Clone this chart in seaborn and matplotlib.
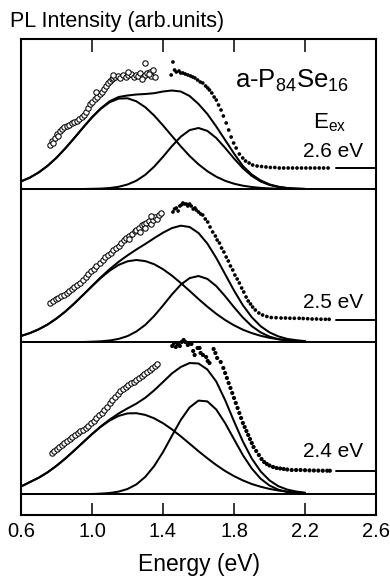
import matplotlib
matplotlib.use("Agg")
import numpy as np
import pandas as pd
import matplotlib.pyplot as plt
import seaborn as sns

# ---------------- data ----------------
energy_grid = [0.60, 0.65, 0.70, 0.75, 0.80, 0.85, 0.90, 0.95, 1.00, 1.05, 1.10,
               1.15, 1.20, 1.25, 1.30, 1.35, 1.40, 1.45, 1.50, 1.55, 1.60, 1.65,
               1.70, 1.75, 1.80, 1.85, 1.90, 1.95, 2.00, 2.05, 2.10, 2.15, 2.20]

# E_ex = 2.6 eV
low_band_26 = [7.6, 11.4, 16.6, 23.2, 31.3, 40.7, 50.9, 61.5, 71.6, 80.3, 86.8,
               90.4, 90.7, 87.7, 81.8, 73.5, 63.6, 53.1, 42.7, 33.0, 24.7, 17.8,
               12.3, 8.2, 5.3, 3.3, 2.0, 1.1, 0.6, 0.3, 0.1, 0.0, 0.0]
high_band_26 = [0, 0, 0, 0, 0, 0, 0, 0, 0.2, 0.4, 1.0,
                2.2, 4.5, 8.3, 14.2, 22.3, 32.2, 42.8, 52.3, 58.9, 61.0, 58.1,
                51.0, 41.1, 30.5, 20.8, 13.1, 7.5, 4.0, 2.0, 0.9, 0.4, 0.1]
fit_sum_26 = [7.6, 11.4, 16.6, 23.2, 31.3, 40.7, 50.9, 61.5, 71.8, 80.7, 87.8,
              92.0, 93.5, 94.5, 95.0, 95.8, 97.5, 98.5, 97.5, 93.0, 85.0, 75.0,
              62.5, 49.0, 35.5, 23.0, 14.5, 8.6, 4.6, 2.3, 1.0, 0.4, 0.1]
open_E_26 = [0.763, 0.775, 0.782, 0.790, 0.800, 0.810, 0.820, 0.830, 0.845, 0.857,
             0.870, 0.885, 0.900, 0.913, 0.927, 0.941, 0.955, 0.965, 0.975, 0.988,
             1.000, 1.016, 1.030, 1.044, 1.055, 1.066, 1.078, 1.090, 1.100, 1.110,
             1.119, 1.130, 1.147, 1.160, 1.175, 1.190, 1.205, 1.222, 1.235, 1.250,
             1.259, 1.270, 1.285, 1.297, 1.310, 1.325, 1.335, 1.343, 1.353, 1.300,
             1.120, 1.200, 1.280, 1.320, 1.025]
open_I_26 = [44, 48, 46, 51, 55, 53, 58, 60, 62, 63,
             64, 66, 67, 68, 70, 72, 74, 77, 81, 85,
             87, 90, 92, 95, 97, 100, 103, 106, 108, 110,
             111, 112, 113, 111, 114, 112, 114, 115, 112, 114,
             113, 116, 112, 114, 116, 117, 113, 119, 112, 126,
             114, 117, 110, 115, 97]
dots_E_26 = [1.446, 1.456, 1.465, 1.475, 1.490, 1.500, 1.512, 1.525, 1.540, 1.555,
             1.568, 1.580, 1.595, 1.610, 1.624, 1.640, 1.652, 1.662, 1.675, 1.688,
             1.700, 1.713, 1.727, 1.740, 1.756, 1.770, 1.784, 1.798, 1.812, 1.830,
             1.849, 1.865, 1.885, 1.905, 1.930, 1.955, 1.980, 2.005, 2.030, 2.055,
             2.080, 2.105, 2.130, 2.155, 2.180, 2.205, 2.230, 2.255, 2.280, 2.305, 2.330]
dots_I_26 = [114, 127, 119, 117, 118, 116, 116, 115, 114, 113,
             112, 111, 109, 107, 106, 103, 101, 99, 96, 92,
             89, 84, 79, 73, 66, 59, 52, 46, 41, 35,
             31, 28, 26, 24, 23, 22.5, 22, 21.5, 21.5, 21,
             21, 21, 21, 21, 21, 21, 21, 21, 21, 21, 21]
level_26 = 21.5

# E_ex = 2.5 eV
low_band_25 = [6.0, 8.9, 12.7, 17.5, 23.5, 30.5, 38.5, 47.1, 55.7, 64.1, 71.4,
               77.1, 80.7, 82.0, 80.9, 77.8, 72.8, 66.4, 59.0, 51.1, 43.0, 35.3,
               28.2, 22.0, 16.7, 12.3, 8.9, 6.2, 4.2, 2.8, 1.8, 1.2, 0.7]
high_band_25 = [0, 0, 0, 0, 0, 0, 0, 0, 0.3, 0.7, 1.5,
                3.1, 5.9, 10.5, 17.1, 26.0, 36.5, 47.5, 57.3, 63.9, 66.0, 63.1,
                55.9, 45.8, 34.8, 24.5, 15.9, 9.6, 5.4, 2.8, 1.3, 0.6, 0.2]
fit_sum_25 = [6.0, 8.9, 12.7, 17.5, 23.5, 30.5, 38.5, 47.1, 56.0, 64.8, 72.9,
              80.2, 86.6, 92.5, 98.0, 103.8, 109.3, 113.9, 116.3, 115.0, 109.0, 98.4,
              84.1, 67.8, 51.5, 36.8, 24.8, 15.8, 9.6, 5.6, 3.1, 1.8, 0.9]
open_E_25 = [0.763, 0.780, 0.795, 0.810, 0.825, 0.840, 0.857, 0.870, 0.885, 0.900,
             0.915, 0.930, 0.950, 0.965, 0.980, 0.995, 1.010, 1.025, 1.044, 1.060,
             1.075, 1.090, 1.105, 1.120, 1.138, 1.150, 1.165, 1.180, 1.194, 1.210,
             1.225, 1.240, 1.250, 1.265, 1.280, 1.295, 1.306, 1.320, 1.330, 1.343,
             1.355, 1.365, 1.375, 1.390, 1.210, 1.270, 1.300, 1.335]
open_I_25 = [39, 41, 43, 44, 46, 47, 49, 51, 53, 55,
             57, 59, 62, 65, 68, 71, 73, 76, 79, 82,
             85, 87, 89, 92, 94, 96, 99, 102, 104, 106,
             108, 111, 112, 114, 117, 118, 119, 121, 118, 122,
             125, 123, 127, 129, 103, 110, 114, 126]
dots_E_25 = [1.456, 1.465, 1.475, 1.485, 1.495, 1.503, 1.512, 1.520, 1.531, 1.540,
             1.550, 1.559, 1.570, 1.580, 1.587, 1.600, 1.612, 1.624, 1.638, 1.652,
             1.665, 1.680, 1.695, 1.705, 1.718, 1.730, 1.743, 1.756, 1.768, 1.780,
             1.793, 1.805, 1.818, 1.830, 1.843, 1.855, 1.868, 1.880, 1.893, 1.905,
             1.920, 1.940, 1.961, 1.985, 2.010, 2.037, 2.065, 2.090, 2.115, 2.140,
             2.167, 2.190, 2.215, 2.240, 2.265, 2.290, 2.315, 2.336]
dots_I_25 = [130, 133, 134, 131, 136, 137, 139, 138, 138, 136,
             138, 136, 133, 134, 132, 130, 128, 127, 123, 120,
             115, 110, 106, 102, 99, 94, 90, 85, 81, 76,
             72, 67, 63, 59, 54, 50, 45, 41, 38, 35,
             32, 29, 27, 25.5, 24.5, 24.3, 24, 24, 23.8, 23.7,
             23.7, 23.5, 23.3, 23, 23, 22.8, 22.7, 22.7]
level_25 = 22.0

# E_ex = 2.4 eV
low_band_24 = [7.5, 11.9, 16.3, 21.7, 28.2, 35.5, 43.5, 51.7, 59.9, 67.3, 73.5,
               78.1, 80.6, 80.8, 79.1, 75.7, 70.8, 64.7, 57.7, 50.3, 42.8, 35.7,
               29.0, 23.0, 17.9, 13.6, 10.0, 7.3, 5.1, 3.5, 2.4, 1.6, 1.0]
high_band_24 = [0, 0, 0, 0, 0, 0, 0, 0, 0, 0.4, 1.0,
                2.4, 5.0, 9.6, 17.1, 27.9, 41.9, 58.1, 74.0, 86.6, 93.4, 92.6,
                84.5, 70.9, 54.8, 38.9, 25.5, 15.3, 8.5, 4.3, 2.0, 0.9, 0.3]
fit_sum_24 = [7.5, 11.9, 16.3, 21.7, 28.2, 35.5, 43.5, 51.7, 59.9, 67.7, 74.5,
              80.5, 85.6, 90.4, 96.2, 103.6, 112.0, 120.5, 127.0, 131.0, 130.5, 124.5,
              112.5, 93.9, 72.7, 52.5, 35.5, 22.6, 13.6, 7.8, 4.4, 2.5, 1.3]
open_E_24 = [0.772, 0.785, 0.800, 0.815, 0.830, 0.845, 0.860, 0.875, 0.890, 0.905,
             0.920, 0.935, 0.950, 0.965, 0.980, 0.995, 1.010, 1.025, 1.040, 1.055,
             1.070, 1.085, 1.100, 1.115, 1.130, 1.145, 1.160, 1.175, 1.190, 1.205,
             1.220, 1.235, 1.250, 1.265, 1.280, 1.295, 1.310, 1.325, 1.340, 1.355, 1.365]
open_I_24 = [41, 43, 45, 47, 49, 51, 53, 55, 57, 59,
             61, 63, 64, 66, 68, 71, 73, 76, 79, 81,
             84, 87, 91, 94, 97, 100, 103, 105, 107, 109,
             111, 112, 114, 116, 118, 120, 122, 124, 126, 128, 130]
dots_E_24 = [1.452, 1.462, 1.472, 1.484, 1.495, 1.505, 1.516, 1.526, 1.540, 1.550,
             1.560, 1.570, 1.578, 1.595, 1.606, 1.612, 1.625, 1.643, 1.652, 1.662,
             1.685, 1.695, 1.705, 1.725, 1.740, 1.750, 1.760, 1.770, 1.780, 1.790,
             1.800, 1.810, 1.820, 1.830, 1.840, 1.850, 1.860, 1.870, 1.880, 1.890,
             1.900, 1.910, 1.925, 1.940, 1.955, 1.970, 1.985, 2.000, 2.020, 2.040,
             2.060, 2.080, 2.100, 2.125, 2.150, 2.175, 2.200, 2.225, 2.250, 2.275,
             2.300, 2.325, 2.340]
dots_I_24 = [148, 151, 147, 150, 148, 152, 154, 152, 149, 151,
             150, 143, 139, 146, 146, 141, 139, 137, 133, 131,
             145, 141, 136, 132, 126, 121, 116, 111, 106, 101,
             96, 91, 86, 81, 76, 71, 67, 63, 59, 55,
             51, 47, 43, 39, 35, 32, 30, 28.5, 27, 26,
             25.5, 25, 24.5, 24, 24, 24, 23.8, 23.6, 23.5, 23.4,
             23.3, 23.3, 23.3]
level_24 = 23.3

dash_E = [2.375, 2.60]
excitation_labels = ["2.6 eV", "2.5 eV", "2.4 eV"]
x_ticks = [0.6, 1.0, 1.4, 1.8, 2.2, 2.6]
x_tick_labels = ["0.6", "1.0", "1.4", "1.8", "2.2", "2.6"]

# ---------------- layout / style ----------------
panel_offset = [305, 152, 0]
W, H = 390, 585

sns.set_theme(style="ticks")
plt.rcParams["font.family"] = ["Liberation Sans", "DejaVu Sans"]
plt.rcParams["mathtext.default"] = "regular"

fig = plt.figure(figsize=(W / 100, H / 100), dpi=100)
ax = fig.add_axes([21 / W, 1 - 515 / H, (376 - 21) / W, (515 - 39) / H])

panels = [
    (low_band_26, high_band_26, fit_sum_26, open_E_26, open_I_26, dots_E_26, dots_I_26, level_26),
    (low_band_25, high_band_25, fit_sum_25, open_E_25, open_I_25, dots_E_25, dots_I_25, level_25),
    (low_band_24, high_band_24, fit_sum_24, open_E_24, open_I_24, dots_E_24, dots_I_24, level_24),
]

lw = 1.45
for k, (g1, g2, gs, oE, oI, dE, dI, lev) in enumerate(panels):
    off = panel_offset[k]
    ax.axhline(off, color="black", lw=1.4, zorder=2)
    curves = pd.DataFrame({
        "energy": energy_grid * 3,
        "intensity": list(g1) + list(g2) + list(gs),
        "component": ["low"] * len(g1) + ["high"] * len(g2) + ["sum"] * len(gs),
    })
    curves["y"] = curves["intensity"] + off
    sns.lineplot(data=curves, x="energy", y="y", units="component", estimator=None,
                 color="black", lw=lw, ax=ax, legend=False, zorder=3)
    sns.scatterplot(x=np.array(oE), y=np.array(oI) + off, marker="o", s=15,
                    color="white", edgecolor="black", linewidth=0.75, ax=ax,
                    legend=False, zorder=4)
    size = 7 if k < 2 else 9
    sns.scatterplot(x=np.array(dE), y=np.array(dI) + off, marker="o", s=size,
                    color="black", edgecolor="none", linewidth=0, ax=ax,
                    legend=False, zorder=4)
    sns.lineplot(x=dash_E, y=[lev + off, lev + off], color="black", lw=1.4, ax=ax,
                 legend=False)

ax.set_xlim(0.6, 2.6)
ax.set_ylim(-21, 455)
ax.set_yticks([])
ax.set_ylabel("")
ax.set_xticks(x_ticks)
ax.set_xticklabels(x_tick_labels)
ax.tick_params(axis="x", direction="in", top=True, bottom=True, length=9,
               width=1.1, labelsize=14.5, pad=5, colors="black")
for sp in ax.spines.values():
    sp.set_linewidth(1.5)
    sp.set_color("black")
    sp.set_visible(True)
ax.set_xlabel("Energy (eV)", fontsize=16.5, labelpad=9, color="black")

def fx(px):
    return px / W

def fy(py):
    return 1 - py / H

fig.text(fx(10), fy(27), "PL Intensity (arb.units)", fontsize=15.5, ha="left",
         va="baseline", color="black")
fig.text(fx(235), fy(88), "a-P$_{84}$Se$_{16}$", fontsize=18.5, ha="left",
         va="baseline", color="black")
fig.text(fx(313), fy(128), "E$_{ex}$", fontsize=16, ha="left",
         va="baseline", color="black")
for lbl, base in zip(excitation_labels, [157, 308, 457]):
    fig.text(fx(333), fy(base), lbl, fontsize=15, ha="center", va="baseline",
             color="black")

fig.savefig("out.png", dpi=100, facecolor="white")
